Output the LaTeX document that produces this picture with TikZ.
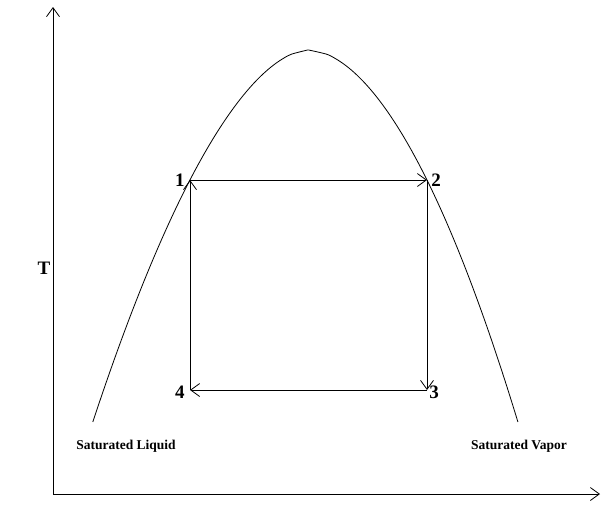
\documentclass[tikz,border=0pt]{standalone}
\usepackage{fontspec}
\setmainfont{Liberation Serif}
\usetikzlibrary{arrows.meta,positioning}

\begin{document}
\begin{tikzpicture}[
  x=1pt, y=-1pt,
  >={Straight Barb[length=9pt,width=13pt]},
  line width=0.8pt,
  num/.style={font=\fontsize{19}{19}\selectfont\bfseries, inner sep=0pt},
  lab/.style={font=\fontsize{13.5}{14}\selectfont\bfseries, inner sep=0pt, anchor=base},
  node distance=4pt]
\useasboundingbox (0,0) rectangle (601,504);
% axes
\coordinate (o) at (53,494);
\coordinate (ytop) at (53,7);
\coordinate (xend) at (600,494);
\draw[->] (o) -- (ytop);
\draw[->] (o) -- (xend);
\node[num] (t) at (44,268) {T};
% saturation dome
\coordinate (liq) at (93,422);
\coordinate (top) at (308,50);
\coordinate (vap) at (518,422);
\draw (liq) plot[domain=372:0.01, samples=90, smooth] ({308-7.33*(\x)^0.571}, {50+\x})
  -- (top) -- plot[domain=0.01:372, samples=90, smooth] ({308+8.59*(\x)^0.54}, {50+\x});
\node[lab] (sl) at (126,449) {Saturated Liquid};
\node[lab] (sv) at (519,449) {Saturated Vapor};
% cycle
\coordinate (p1) at (190,180);
\coordinate (p2) at (427,180);
\coordinate (p3) at (427,390);
\coordinate (p4) at (190,390);
\draw[->] (p1) -- (p2);
\draw[->] (p2) -- (p3);
\draw[->] (p3) -- (p4);
\draw[->] (p4) -- (p1);
\node[num, left=5pt of p1] (n1) {1};
\node[num, right=4pt of p2] (n2) {2};
\node[num, right=2pt of p3, yshift=-2pt] (n3) {3};
\node[num, left=5pt of p4, yshift=-2pt] (n4) {4};
\end{tikzpicture}
\end{document}
